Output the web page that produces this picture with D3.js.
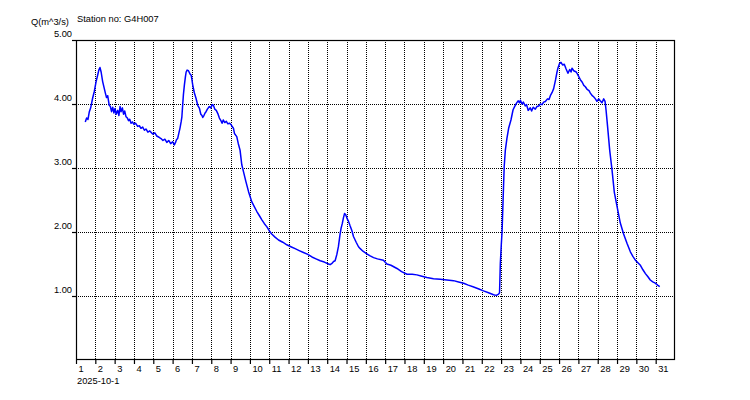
<!DOCTYPE html>
<html>
<head>
<meta charset="utf-8">
<script src="https://cdn.jsdelivr.net/npm/d3@7"></script>
<style>
  html, body { margin: 0; padding: 0; background: #fff; }
  svg { display: block; }
  text { font-family: "Liberation Sans", Arial, sans-serif; font-size: 9.3px; fill: #000; }
</style>
</head>
<body>
<svg id="chart" width="750" height="400"></svg>
<script>
// ---- data (day of October 2025, discharge Q in m^3/s) ----
const days = [
  1.48,1.55,1.62,1.69,1.76,1.86,1.95,2.04,2.12,2.18,2.24,2.30,2.38,2.45,2.52,2.58,2.64,2.72,2.78,2.84,
  2.90,2.96,3.02,3.08,3.16,3.22,3.28,3.33,3.40,3.46,3.52,3.59,3.66,3.72,3.78,3.85,3.92,4.00,4.08,4.19,
  4.28,4.36,4.45,4.54,4.62,4.72,4.82,4.97,5.08,5.18,5.30,5.40,5.50,5.60,5.70,5.80,5.90,6.00,6.09,6.15,
  6.20,6.26,6.32,6.38,6.44,6.48,6.52,6.56,6.61,6.66,6.70,6.75,6.82,6.90,6.96,7.00,7.04,7.12,7.21,7.30,
  7.39,7.46,7.52,7.56,7.62,7.68,7.73,7.80,7.90,7.98,8.05,8.11,8.18,8.26,8.34,8.42,8.50,8.56,8.62,8.70,
  8.78,8.86,8.94,9.02,9.10,9.15,9.20,9.32,9.40,9.49,9.58,9.67,9.79,9.93,10.10,10.22,10.36,10.50,10.62,10.75,
  10.88,11.00,11.13,11.30,11.48,11.70,11.91,12.12,12.34,12.55,12.77,13.00,13.21,13.42,13.64,13.85,14.07,14.15,14.25,14.33,
  14.41,14.50,14.58,14.66,14.72,14.78,14.84,14.90,14.96,15.03,15.10,15.18,15.28,15.36,15.50,15.62,15.71,15.85,16.05,16.20,
  16.40,16.60,16.91,17.09,17.30,17.61,17.85,18.13,18.40,18.64,18.90,19.16,19.50,19.85,20.20,20.54,20.80,21.06,21.30,21.58,
  21.85,22.09,22.35,22.61,22.75,22.87,22.92,22.96,23.01,23.05,23.10,23.16,23.22,23.30,23.39,23.51,23.62,23.70,23.79,23.88,
  23.95,24.00,24.08,24.15,24.25,24.32,24.40,24.51,24.58,24.66,24.77,24.85,24.95,25.03,25.12,25.20,25.29,25.40,25.48,25.55,
  25.64,25.72,25.82,25.88,25.94,26.02,26.10,26.18,26.27,26.36,26.46,26.55,26.62,26.67,26.76,26.89,27.00,27.10,27.20,27.28,
  27.36,27.45,27.55,27.62,27.72,27.80,27.88,27.96,28.05,28.13,28.22,28.31,28.38,28.43,28.51,28.62,28.74,28.86,29.00,29.17,
  29.34,29.52,29.69,29.82,29.95,30.08,30.21,30.34,30.47,30.60,30.72,30.85,30.98,31.10,31.21
];
const flows = [
  3.72,3.78,3.76,3.88,3.94,4.09,4.20,4.35,4.45,4.53,4.57,4.50,4.35,4.26,4.17,4.10,4.13,3.98,3.96,3.88,
  3.95,3.86,3.93,3.84,3.90,3.82,3.96,3.88,3.94,3.84,3.89,3.80,3.78,3.74,3.76,3.70,3.72,3.68,3.70,3.65,
  3.66,3.62,3.64,3.59,3.61,3.56,3.58,3.53,3.55,3.50,3.48,3.46,3.43,3.45,3.40,3.43,3.38,3.41,3.36,3.40,
  3.44,3.46,3.54,3.62,3.72,3.80,3.98,4.15,4.30,4.42,4.50,4.53,4.52,4.47,4.45,4.38,4.30,4.18,4.09,3.98,
  3.93,3.84,3.82,3.79,3.82,3.86,3.88,3.92,3.96,3.94,3.99,3.98,3.92,3.90,3.85,3.78,3.74,3.70,3.75,3.71,
  3.73,3.69,3.70,3.68,3.64,3.62,3.54,3.49,3.38,3.28,3.05,2.94,2.79,2.63,2.47,2.40,2.32,2.25,2.19,2.13,
  2.08,2.02,1.97,1.92,1.875,1.84,1.80,1.77,1.74,1.71,1.68,1.65,1.61,1.58,1.55,1.53,1.50,1.49,1.51,1.54,
  1.55,1.65,1.77,1.95,2.06,2.13,2.22,2.29,2.27,2.21,2.17,2.10,2.02,1.93,1.84,1.77,1.74,1.70,1.66,1.63,
  1.60,1.58,1.56,1.50,1.48,1.43,1.38,1.34,1.34,1.33,1.31,1.29,1.27,1.26,1.25,1.24,1.22,1.20,1.17,1.14,
  1.11,1.08,1.05,1.02,1.01,1.03,1.05,1.51,1.80,2.00,2.47,3.02,3.28,3.46,3.62,3.75,3.91,3.96,4.01,4.05,
  4.02,4.06,4.00,4.03,3.97,3.99,3.90,3.94,3.89,3.95,3.92,3.96,3.97,4.00,3.99,4.03,4.04,4.08,4.07,4.13,
  4.18,4.24,4.38,4.48,4.56,4.63,4.65,4.61,4.62,4.55,4.48,4.54,4.50,4.56,4.52,4.50,4.44,4.38,4.34,4.29,
  4.27,4.23,4.21,4.17,4.13,4.11,4.08,4.04,4.08,4.05,4.02,4.08,4.04,3.91,3.65,3.28,2.97,2.62,2.40,2.14,
  1.97,1.82,1.69,1.62,1.56,1.52,1.48,1.41,1.35,1.30,1.25,1.22,1.20,1.17,1.145
];
const dayTicks = d3.range(1, 32);          // 1 .. 31
const qTicks = [1, 2, 3, 4, 5];
const qTickLabels = ["1.00", "2.00", "3.00", "4.00", "5.00"];
const yTitle = "Q(m^3/s)";
const stationTitle = "Station no: G4H007";
const startDateLabel = "2025-10-1";

// ---- layout ----
const L = 76, R = 675, T = 40, B = 360;
const svg = d3.select("#chart");

const x = d3.scaleLinear().domain([1, 32]).range([L, R]);
const y = d3.scaleLinear().domain([0, 5]).range([B, T]);

// grid
const grid = svg.append("g").attr("stroke", "#000").attr("stroke-width", 1)
  .attr("stroke-dasharray", "1,1").attr("shape-rendering", "crispEdges");
grid.selectAll("line.v").data(dayTicks.filter(d => d > 1)).join("line")
  .attr("x1", d => Math.round(x(d)) + 0.5).attr("x2", d => Math.round(x(d)) + 0.5)
  .attr("y1", T).attr("y2", B);
grid.selectAll("line.h").data(qTicks.filter(d => d < 5)).join("line")
  .attr("x1", L).attr("x2", R)
  .attr("y1", d => Math.round(y(d)) + 0.5).attr("y2", d => Math.round(y(d)) + 0.5);

// data line
const line = d3.line().x((d, i) => x(days[i])).y((d, i) => y(flows[i]));
svg.append("path").attr("d", line(flows))
  .attr("fill", "none").attr("stroke", "#0000ff").attr("stroke-width", 1.5)
  .attr("stroke-linejoin", "round");

// frame
svg.append("rect").attr("x", L + 0.5).attr("y", T + 0.5)
  .attr("width", R - L - 1).attr("height", B - T - 1)
  .attr("fill", "none").attr("stroke", "#000").attr("stroke-width", 1.2);

// x axis
const xAxis = svg.append("g").attr("transform", `translate(0,${B})`)
  .call(d3.axisBottom(x).tickValues(dayTicks).tickSize(4).tickFormat(d3.format("d")));
xAxis.select(".domain").remove();
xAxis.selectAll("line").attr("stroke", "#000").attr("stroke-width", 1.2);
xAxis.selectAll("text").attr("text-anchor", "start").attr("x", 2).attr("y", 5).attr("dy", "0.71em");
xAxis.attr("font-family", null).attr("font-size", null);

// y axis
const yAxis = svg.append("g").attr("transform", `translate(${L},0)`)
  .call(d3.axisLeft(y).tickValues(qTicks).tickSize(4).tickFormat((d, i) => qTickLabels[i]));
yAxis.select(".domain").remove();
yAxis.selectAll("line").attr("stroke", "#000").attr("stroke-width", 1.2);
yAxis.selectAll("text").attr("x", -4).attr("y", -3.5).attr("dy", null);
yAxis.attr("font-family", null).attr("font-size", null);

// titles
svg.append("text").attr("x", 31).attr("y", 25).text(yTitle);
svg.append("text").attr("x", 77).attr("y", 22).text(stationTitle);
svg.append("text").attr("x", 77).attr("y", 383.5).text(startDateLabel);
</script>
</body>
</html>
